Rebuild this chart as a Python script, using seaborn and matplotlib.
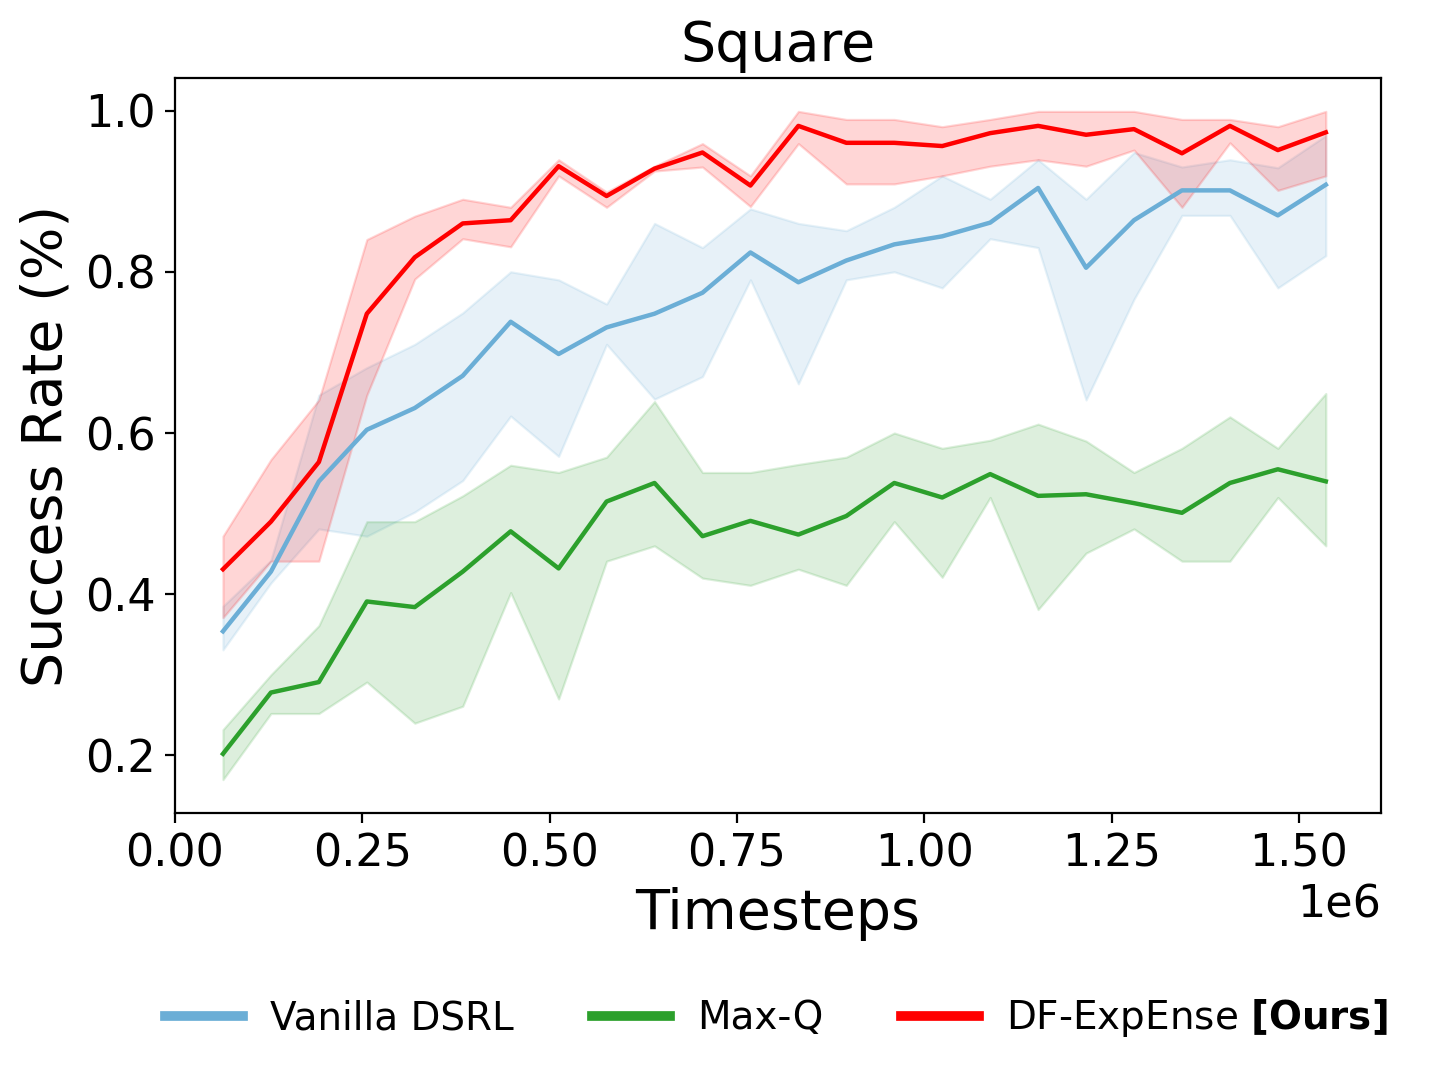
import numpy as np
import pandas as pd
import matplotlib
matplotlib.use("Agg")
import matplotlib.pyplot as plt
from matplotlib.ticker import MultipleLocator
import seaborn as sns

# ---- data ----
timesteps = [64000 * k for k in range(1, 25)]

vanilla_mean = [0.354, 0.428, 0.540, 0.604, 0.631, 0.671, 0.738, 0.698, 0.731, 0.748, 0.774, 0.824,
                0.787, 0.814, 0.834, 0.844, 0.861, 0.904, 0.805, 0.864, 0.901, 0.901, 0.870, 0.908]
vanilla_upper = [0.385, 0.442, 0.647, 0.681, 0.710, 0.749, 0.800, 0.790, 0.760, 0.860, 0.830, 0.878,
                 0.860, 0.851, 0.880, 0.919, 0.890, 0.939, 0.890, 0.948, 0.930, 0.939, 0.929, 0.969]
vanilla_lower = [0.331, 0.414, 0.481, 0.472, 0.502, 0.541, 0.621, 0.571, 0.710, 0.642, 0.670, 0.790,
                 0.661, 0.790, 0.800, 0.780, 0.841, 0.830, 0.641, 0.766, 0.870, 0.870, 0.780, 0.820]

maxq_mean = [0.202, 0.278, 0.291, 0.391, 0.384, 0.428, 0.478, 0.432, 0.515, 0.538, 0.472, 0.491,
             0.474, 0.497, 0.538, 0.520, 0.549, 0.522, 0.524, 0.513, 0.501, 0.538, 0.555, 0.540]
maxq_upper = [0.232, 0.300, 0.361, 0.490, 0.490, 0.522, 0.560, 0.551, 0.570, 0.639, 0.551, 0.551,
              0.561, 0.570, 0.600, 0.581, 0.591, 0.611, 0.590, 0.551, 0.581, 0.620, 0.581, 0.649]
maxq_lower = [0.170, 0.252, 0.252, 0.291, 0.240, 0.261, 0.402, 0.270, 0.441, 0.460, 0.420, 0.411,
              0.431, 0.411, 0.490, 0.421, 0.520, 0.381, 0.451, 0.481, 0.441, 0.441, 0.520, 0.460]

ours_mean = [0.431, 0.490, 0.564, 0.748, 0.818, 0.860, 0.864, 0.931, 0.894, 0.928, 0.948, 0.907,
             0.981, 0.960, 0.960, 0.956, 0.972, 0.981, 0.970, 0.977, 0.947, 0.981, 0.951, 0.973]
ours_upper = [0.472, 0.567, 0.641, 0.840, 0.869, 0.890, 0.880, 0.939, 0.899, 0.931, 0.959, 0.919,
              0.999, 0.989, 0.989, 0.980, 0.989, 0.999, 0.999, 0.999, 0.989, 0.989, 0.980, 0.999]
ours_lower = [0.371, 0.441, 0.441, 0.647, 0.791, 0.841, 0.831, 0.919, 0.880, 0.925, 0.930, 0.881,
              0.959, 0.909, 0.909, 0.919, 0.931, 0.939, 0.931, 0.951, 0.880, 0.960, 0.901, 0.919]

labels = ["Vanilla DSRL", "Max-Q", r"DF-ExpEnse $\bf{[Ours]}$"]
colors = ["#6baed6", "#2ca02c", "#ff0000"]

series = [
    (vanilla_mean, vanilla_lower, vanilla_upper),
    (maxq_mean, maxq_lower, maxq_upper),
    (ours_mean, ours_lower, ours_upper),
]

rows = []
for lab, (m, lo, hi) in zip(labels, series):
    for t, v in zip(timesteps, m):
        rows.append({"Timesteps": t, "value": v, "method": lab})
df = pd.DataFrame(rows)

fig = plt.figure(figsize=(7.15, 5.37), dpi=200)
ax = fig.add_axes([0.1224, 0.2430, 0.8433, 0.6844])

sns.lineplot(data=df, x="Timesteps", y="value", hue="method", hue_order=labels,
             palette=colors, linewidth=1.6, ax=ax, legend=False)

for lab, c, (m, lo, hi) in zip(labels, colors, series):
    ax.fill_between(timesteps, lo, hi, color=c, alpha=0.16, linewidth=0.8)

ax.set_xlim(left=0)
ax.xaxis.set_major_locator(MultipleLocator(250000))
ax.set_title("Square", fontsize=20)
ax.set_xlabel("Timesteps", fontsize=20)
ax.set_ylabel("Success Rate (%)", fontsize=20)
ax.tick_params(axis="both", labelsize=16)
ax.xaxis.get_offset_text().set_fontsize(16)

handles = [plt.Line2D([], [], color=c, linewidth=3.5) for c in colors]
fig.legend(handles, labels, loc="center", bbox_to_anchor=(0.543, 0.052), ncol=3,
           frameon=False, fontsize=14, handlelength=2.0, handletextpad=0.7,
           columnspacing=2.0)

fig.savefig("out.png", dpi=200)
